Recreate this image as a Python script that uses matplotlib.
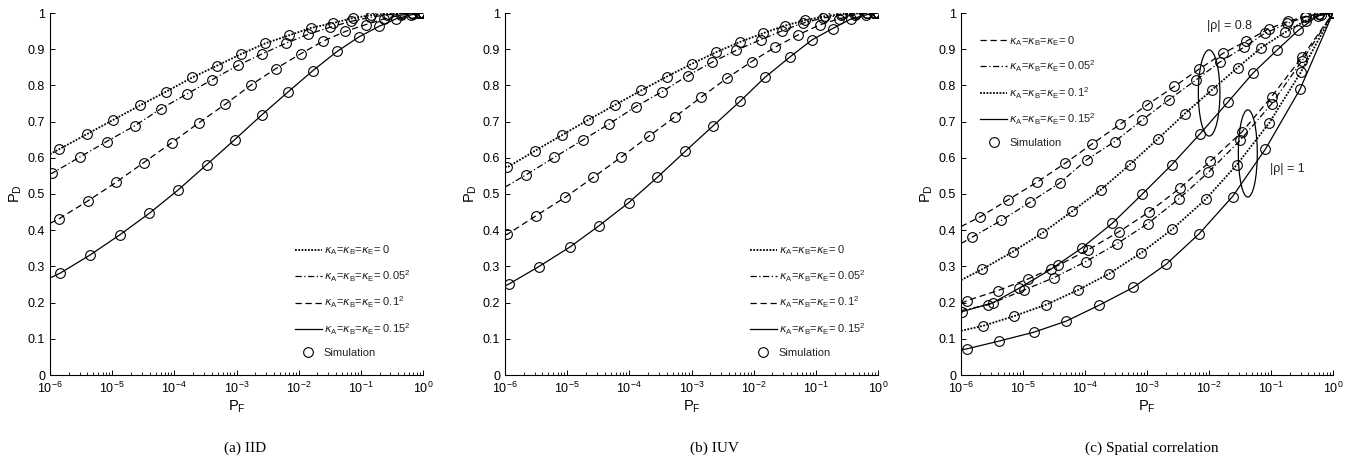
import matplotlib
matplotlib.use("Agg")
import matplotlib.pyplot as plt
from matplotlib.lines import Line2D
from matplotlib.patches import Ellipse
import numpy as np

plt.rcParams['font.family'] = ['Liberation Sans', 'DejaVu Sans']
plt.rcParams['mathtext.default'] = 'regular'

# ---------------- data (x values are log10(P_F)) ----------------
KAPPA_LABELS = [r"$\mathit{\kappa}_A$=$\mathit{\kappa}_B$=$\mathit{\kappa}_E$= 0",
                r"$\mathit{\kappa}_A$=$\mathit{\kappa}_B$=$\mathit{\kappa}_E$= 0.05$^2$",
                r"$\mathit{\kappa}_A$=$\mathit{\kappa}_B$=$\mathit{\kappa}_E$= 0.1$^2$",
                r"$\mathit{\kappa}_A$=$\mathit{\kappa}_B$=$\mathit{\kappa}_E$= 0.15$^2$"]
SIM_LABEL = "Simulation"
YTICK_LABELS = ["0", "0.1", "0.2", "0.3", "0.4", "0.5", "0.6", "0.7", "0.8", "0.9", "1"]
CAPTIONS = ["(a) IID", "(b) IUV", "(c) Spatial correlation"]

# (a) IID
A_START = [0.61, 0.556, 0.419, 0.268]
A_K0_X = [-5.85, -5.41, -4.98, -4.55, -4.13, -3.71, -3.32, -2.92, -2.54, -2.16, -1.80, -1.45, -1.13, -0.84, -0.57, -0.34, -0.17, -0.06, 0]
A_K0_Y = [0.624, 0.665, 0.705, 0.745, 0.783, 0.822, 0.854, 0.887, 0.916, 0.938, 0.959, 0.972, 0.986, 0.994, 0.998, 0.999, 1, 1, 1]
A_K1_X = [-5.97, -5.52, -5.09, -4.64, -4.22, -3.80, -3.39, -2.98, -2.59, -2.21, -1.85, -1.49, -1.16, -0.85, -0.58, -0.35, -0.17, -0.06, 0]
A_K1_Y = [0.557, 0.602, 0.645, 0.688, 0.735, 0.776, 0.816, 0.855, 0.887, 0.916, 0.941, 0.961, 0.977, 0.988, 0.995, 0.998, 1, 1, 1]
A_K2_X = [-5.86, -5.39, -4.94, -4.49, -4.04, -3.61, -3.18, -2.76, -2.37, -1.97, -1.61, -1.25, -0.92, -0.62, -0.36, -0.16, -0.05, 0]
A_K2_Y = [0.431, 0.481, 0.532, 0.587, 0.642, 0.696, 0.748, 0.802, 0.846, 0.887, 0.922, 0.949, 0.968, 0.984, 0.994, 0.998, 1, 1]
A_K3_X = [-5.84, -5.36, -4.87, -4.40, -3.94, -3.48, -3.03, -2.59, -2.17, -1.77, -1.38, -1.03, -0.71, -0.43, -0.19, -0.05, 0]
A_K3_Y = [0.281, 0.331, 0.388, 0.447, 0.511, 0.581, 0.650, 0.719, 0.782, 0.841, 0.894, 0.934, 0.963, 0.984, 0.995, 0.999, 1]

# (b) IUV
B_START = [0.576, 0.519, 0.387, 0.246]
B_K0_X = [-5.96, -5.52, -5.08, -4.66, -4.23, -3.81, -3.40, -2.99, -2.60, -2.22, -1.85, -1.50, -1.17, -0.86, -0.58, -0.35, -0.17, -0.06, 0]
B_K0_Y = [0.574, 0.619, 0.663, 0.705, 0.746, 0.786, 0.824, 0.860, 0.892, 0.920, 0.944, 0.965, 0.980, 0.991, 0.997, 0.999, 1, 1, 1]
B_K1_X = [-5.66, -5.21, -4.75, -4.33, -3.90, -3.48, -3.06, -2.67, -2.28, -1.89, -1.54, -1.21, -0.89, -0.60, -0.36, -0.17, -0.06, 0]
B_K1_Y = [0.553, 0.601, 0.649, 0.693, 0.741, 0.782, 0.827, 0.864, 0.897, 0.926, 0.951, 0.972, 0.986, 0.994, 0.998, 1, 1, 1]
B_K2_X = [-5.96, -5.50, -5.03, -4.58, -4.13, -3.69, -3.26, -2.84, -2.43, -2.03, -1.65, -1.28, -0.94, -0.63, -0.37, -0.17, -0.05, 0]
B_K2_Y = [0.389, 0.440, 0.491, 0.546, 0.602, 0.659, 0.714, 0.768, 0.820, 0.866, 0.906, 0.940, 0.967, 0.984, 0.995, 0.999, 1, 1]
B_K3_X = [-5.94, -5.46, -4.96, -4.49, -4.01, -3.55, -3.10, -2.66, -2.22, -1.82, -1.42, -1.06, -0.73, -0.44, -0.19, -0.05, 0]
B_K3_Y = [0.251, 0.299, 0.353, 0.412, 0.476, 0.546, 0.618, 0.687, 0.756, 0.822, 0.878, 0.926, 0.957, 0.983, 0.995, 0.999, 1]

# (c) Spatial correlation, |rho| = 0.8
C8_START = [0.41, 0.363, 0.262, 0.166]
C8_K0_X = [-5.69, -5.24, -4.78, -4.32, -3.88, -3.44, -3.00, -2.56, -2.16, -1.77, -1.40, -1.03, -0.72, -0.44, -0.22, 0]
C8_K0_Y = [0.437, 0.484, 0.532, 0.585, 0.639, 0.692, 0.746, 0.797, 0.845, 0.889, 0.922, 0.957, 0.977, 0.991, 0.998, 1]
C8_K1_X = [-5.82, -5.35, -4.88, -4.41, -3.97, -3.52, -3.08, -2.65, -2.21, -1.83, -1.43, -1.10, -0.74, -0.45, -0.22, 0]
C8_K1_Y = [0.381, 0.427, 0.478, 0.530, 0.595, 0.645, 0.704, 0.760, 0.815, 0.864, 0.906, 0.944, 0.971, 0.989, 0.997, 1]
C8_K2_X = [-5.66, -5.16, -4.69, -4.21, -3.75, -3.28, -2.82, -2.39, -1.95, -1.54, -1.16, -0.77, -0.44, -0.20, 0]
C8_K2_Y = [0.292, 0.341, 0.392, 0.452, 0.511, 0.581, 0.653, 0.722, 0.788, 0.849, 0.904, 0.947, 0.979, 0.995, 1]
C8_K3_X = [-5.98, -5.48, -5.06, -4.55, -4.05, -3.56, -3.08, -2.60, -2.14, -1.70, -1.29, -0.90, -0.56, -0.25, 0]
C8_K3_Y = [0.175, 0.200, 0.240, 0.292, 0.351, 0.419, 0.499, 0.581, 0.667, 0.753, 0.834, 0.898, 0.952, 0.992, 1]

# (c) Spatial correlation, |rho| = 1
C1_START = [0.197, 0.178, 0.122, 0.07]
C1_K0_X = [-5.91, -5.41, -4.92, -4.43, -3.95, -3.45, -2.97, -2.47, -1.98, -1.47, -0.99, -0.50, 0]
C1_K0_Y = [0.205, 0.233, 0.265, 0.303, 0.346, 0.396, 0.450, 0.516, 0.590, 0.671, 0.769, 0.878, 1]
C1_K1_X = [-5.56, -4.98, -4.50, -3.99, -3.49, -2.99, -2.49, -2.01, -1.50, -0.99, -0.50, 0]
C1_K1_Y = [0.194, 0.235, 0.269, 0.313, 0.362, 0.418, 0.486, 0.560, 0.648, 0.749, 0.868, 1]
C1_K2_X = [-5.64, -5.14, -4.63, -4.11, -3.61, -3.09, -2.59, -2.05, -1.55, -1.03, -0.52, 0]
C1_K2_Y = [0.136, 0.163, 0.194, 0.235, 0.280, 0.338, 0.403, 0.486, 0.581, 0.696, 0.836, 1]
C1_K3_X = [-5.91, -5.38, -4.83, -4.30, -3.77, -3.22, -2.69, -2.16, -1.62, -1.09, -0.53, 0]
C1_K3_Y = [0.072, 0.094, 0.118, 0.149, 0.193, 0.242, 0.306, 0.390, 0.493, 0.624, 0.790, 1]

# ---------------- styles ----------------
DOT = (0, (1, 0.8))
DASHDOT = (0, (5, 2, 1, 2))
DASH = (0, (5, 3))
SOLID = '-'
STYLES_AB = [DOT, DASHDOT, DASH, SOLID]
STYLES_C = [DASH, DASHDOT, DOT, SOLID]
LW = 0.9
MS = 7

def lw_for(ls):
    return 1.3 if ls == DOT else LW

fig = plt.figure(figsize=(13.59, 4.68), dpi=100)
W, H = 1359, 468
def axes_px(l, r, t, b):
    return fig.add_axes([l / W, 1 - b / H, (r - l) / W, (b - t) / H])

ax_a = axes_px(50, 423, 13, 375)
ax_b = axes_px(505, 878, 13, 375)
ax_c = axes_px(961, 1333, 13, 375)


def draw_curve(ax, start, xs, ys, ls):
    lx = [10.0 ** -6] + [10.0 ** v for v in xs]
    ly = [start] + list(ys)
    if xs[-1] != 0:
        lx.append(1.0)
        ly.append(1.0)
    ax.plot(lx, ly, color='black', lw=lw_for(ls), linestyle=ls, zorder=2)
    ax.plot([10.0 ** v for v in xs], ys, linestyle='none', marker='o', ms=MS,
            mfc='none', mec='black', mew=0.8, zorder=3)


def style_axes(ax):
    ax.set_xscale('log')
    ax.set_xlim(1e-6, 1)
    ax.set_ylim(0, 1)
    ax.set_xticks([1e-6, 1e-5, 1e-4, 1e-3, 1e-2, 1e-1, 1])
    ax.set_yticks(np.linspace(0, 1, 11))
    ax.set_yticklabels(YTICK_LABELS)
    for s in ['top', 'right']:
        ax.spines[s].set_visible(False)
    for s in ['left', 'bottom']:
        ax.spines[s].set_linewidth(0.8)
    ax.tick_params(axis='both', which='major', direction='in', length=3.5,
                   width=0.7, labelsize=9)
    ax.tick_params(axis='x', which='minor', direction='in', length=2, width=0.6)
    ax.tick_params(axis='x', which='major', pad=4)
    ax.set_xlabel("P$_F$", fontsize=10.5, labelpad=2)
    ax.set_ylabel("P$_D$", fontsize=10.5, labelpad=3)


def make_legend(ax, styles, loc, anchor):
    handles = [Line2D([], [], color='black', lw=lw_for(s), linestyle=s) for s in styles]
    handles.append(Line2D([], [], linestyle='none', marker='o', ms=MS, mfc='none',
                          mec='black', mew=0.8))
    leg = ax.legend(handles, KAPPA_LABELS + [SIM_LABEL], loc=loc,
                    bbox_to_anchor=anchor, frameon=False, fontsize=8,
                    handlelength=2.4, handletextpad=0.2, labelspacing=0.98,
                    borderaxespad=0)
    for t in leg.get_texts():
        t.set_color('#222222')


# panel (a)
for st, xs, ys, ls in zip(A_START, [A_K0_X, A_K1_X, A_K2_X, A_K3_X],
                          [A_K0_Y, A_K1_Y, A_K2_Y, A_K3_Y], STYLES_AB):
    draw_curve(ax_a, st, xs, ys, ls)
style_axes(ax_a)
make_legend(ax_a, STYLES_AB, 'upper left', (0.645, 0.375))

# panel (b)
for st, xs, ys, ls in zip(B_START, [B_K0_X, B_K1_X, B_K2_X, B_K3_X],
                          [B_K0_Y, B_K1_Y, B_K2_Y, B_K3_Y], STYLES_AB):
    draw_curve(ax_b, st, xs, ys, ls)
style_axes(ax_b)
make_legend(ax_b, STYLES_AB, 'upper left', (0.645, 0.375))

# panel (c)
for st, xs, ys, ls in zip(C8_START, [C8_K0_X, C8_K1_X, C8_K2_X, C8_K3_X],
                          [C8_K0_Y, C8_K1_Y, C8_K2_Y, C8_K3_Y], STYLES_C):
    draw_curve(ax_c, st, xs, ys, ls)
for st, xs, ys, ls in zip(C1_START, [C1_K0_X, C1_K1_X, C1_K2_X, C1_K3_X],
                          [C1_K0_Y, C1_K1_Y, C1_K2_Y, C1_K3_Y], STYLES_C):
    draw_curve(ax_c, st, xs, ys, ls)
style_axes(ax_c)
make_legend(ax_c, STYLES_C, 'upper left', (0.04, 0.955))

ax_c.add_patch(Ellipse((0.667, 0.779), 0.058, 0.238, transform=ax_c.transAxes,
                       fill=False, ec='black', lw=0.9, zorder=4))
ax_c.add_patch(Ellipse((0.771, 0.612), 0.051, 0.241, transform=ax_c.transAxes,
                       fill=False, ec='black', lw=0.9, zorder=4))
ax_c.text(0.66, 0.955, "|ρ| = 0.8", transform=ax_c.transAxes, fontsize=9,
          color='#222222')
ax_c.text(0.83, 0.56, "|ρ| = 1", transform=ax_c.transAxes, fontsize=9,
          color='#222222')

for cap, cx in zip(CAPTIONS, [245, 714, 1152]):
    fig.text(cx / W, 1 - 448 / H, cap, ha='center', va='center', fontsize=11,
             family=['Liberation Serif', 'DejaVu Serif'])

fig.savefig("out.png", dpi=100, facecolor='white')
